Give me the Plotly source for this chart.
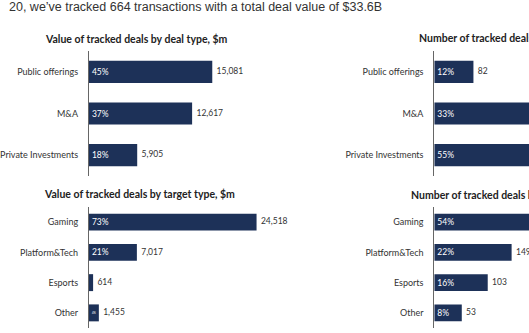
import plotly.graph_objects as go

W, H = 529, 333

# ---- data ----
deal_types = ["Public offerings", "M&A", "Private Investments"]
deal_value = [15081, 12617, 5905]
deal_value_pct = ["45%", "37%", "18%"]
deal_count = [82, 219, 363]
deal_count_pct = ["12%", "33%", "55%"]

target_types = ["Gaming", "Platform&Tech", "Esports", "Other"]
target_value = [24518, 7017, 614, 1455]
target_value_pct = ["73%", "21%", "", "4%"]
target_count = [359, 149, 103, 53]
target_count_pct = ["54%", "22%", "16%", "8%"]

header = "20, we\u2019ve tracked 664 transactions with a total deal value of $33.6B"
titles = ["Value of tracked deals by deal type, $m",
          "Number of tracked deals by deal type",
          "Value of tracked deals by target type, $m",
          "Number of tracked deals by target type"]

NAVY = "#1d3158"
FONT = "Lato"

def px(x):
    return x / W

def py(y):
    return 1 - y / H

fig = go.Figure()

panels = [
    # cats, values, pct, axis idx, x0 px, x1 px, y0 px, y1 px, px per unit, bar width
    (deal_types, deal_value, deal_value_pct, 1, 83, 280, 51, 176, 0.00829, 0.53),
    (deal_types, deal_count, deal_count_pct, 2, 433, 529, 51, 176, 0.484, 0.53),
    (target_types, target_value, target_value_pct, 3, 83, 310, 207, 328, 0.00693, 0.56),
    (target_types, target_count, target_count_pct, 4, 433, 529, 207, 328, 0.526, 0.56),
]

for cats, vals, pct, i, x0, x1, y0, y1, scale, bw in panels:
    xa = "x" if i == 1 else f"x{i}"
    ya = "y" if i == 1 else f"y{i}"
    rng = (x1 - x0) / scale
    fig.add_trace(go.Bar(
        x=vals, y=cats, orientation="h", marker=dict(color=NAVY, line=dict(width=0)),
        width=bw, text=pct, textposition="inside", insidetextanchor="start",
        textfont=dict(color="white", size=8.5, family=FONT), textangle=0,
        xaxis=xa, yaxis=ya, showlegend=False, hoverinfo="skip"))
    # value labels only where they fall inside the visible (cropped) area
    labels = [f"  {v:,}" if v < rng * 0.92 else "" for v in vals]
    fig.add_trace(go.Scatter(
        x=vals, y=cats, mode="text", text=labels,
        textposition="middle right", textfont=dict(color="#333333", size=8.5, family=FONT),
        xaxis=xa, yaxis=ya, showlegend=False, cliponaxis=(i in (2, 4)),
        hoverinfo="skip"))
    fig.layout[f"xaxis{'' if i == 1 else i}"] = dict(
        domain=[px(x0), px(x1)], range=[0, rng], visible=False, anchor=ya)
    fig.layout[f"yaxis{'' if i == 1 else i}"] = dict(
        domain=[py(y1), py(y0)], autorange="reversed", type="category",
        showline=True, linecolor="#666666", linewidth=1, ticks="",
        ticklabelstandoff=8, tickfont=dict(size=9, color="#333333", family=FONT),
        showgrid=False, zeroline=False, anchor=xa)

ann = [
    dict(text=header, x=0, y=py(7), xanchor="left", yanchor="middle",
         font=dict(size=12.5, color="#333333", family="Liberation Sans, Arial")),
    dict(text=f"<b>{titles[0]}</b>", x=px(131), y=py(39)),
    dict(text=f"<b>{titles[1]}</b>", x=px(415), y=py(38), xanchor="left"),
    dict(text=f"<b>{titles[2]}</b>", x=px(134), y=py(194)),
    dict(text=f"<b>{titles[3]}</b>", x=px(407), y=py(195), xanchor="left"),
]
for a in ann:
    a.setdefault("xanchor", "center")
    a.setdefault("yanchor", "middle")
    a.setdefault("font", dict(size=10.5, color="#222222", family=FONT))
    a.update(xref="paper", yref="paper", showarrow=False)
fig.update_layout(annotations=ann)

fig.update_layout(width=W, height=H, margin=dict(l=0, r=0, t=0, b=0),
                  paper_bgcolor="white", plot_bgcolor="white",
                  bargap=0.45, font=dict(family=FONT))

fig.write_html("out.html")
